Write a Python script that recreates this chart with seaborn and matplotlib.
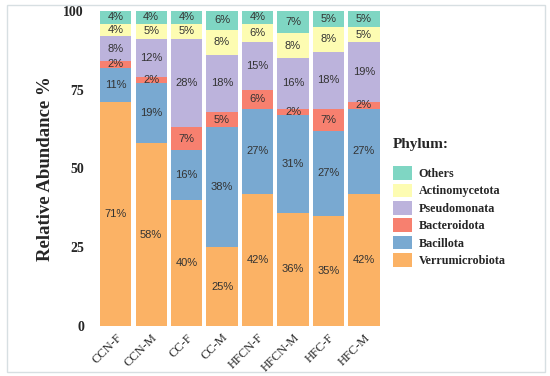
import numpy as np
import pandas as pd
import seaborn as sns
import matplotlib.pyplot as plt
from matplotlib.patches import Patch, Rectangle

# data (bottom -> top stacking order)
samples = ["CCN-F", "CCN-M", "CC-F", "CC-M", "HFCN-F", "HFCN-M", "HFC-F", "HFC-M"]
phyla = ["Verrumicrobiota", "Bacillota", "Bacteroidota", "Pseudomonata", "Actinomycetota", "Others"]
verrumicrobiota = [71, 58, 40, 25, 42, 36, 35, 42]
bacillota = [11, 19, 16, 38, 27, 31, 27, 27]
bacteroidota = [2, 2, 7, 5, 6, 2, 7, 2]
pseudomonata = [8, 12, 28, 18, 15, 16, 18, 19]
actinomycetota = [4, 5, 5, 8, 6, 8, 8, 5]
others = [4, 4, 4, 6, 4, 7, 5, 5]

colors = ["#fbb265", "#79a9d1", "#f7806f", "#bcb3dc", "#fdfcb2", "#7fd6c3"]

df = pd.DataFrame({"Sample": samples,
                   "Verrumicrobiota": verrumicrobiota,
                   "Bacillota": bacillota,
                   "Bacteroidota": bacteroidota,
                   "Pseudomonata": pseudomonata,
                   "Actinomycetota": actinomycetota,
                   "Others": others})
cum = df[phyla].cumsum(axis=1)

sns.set_style("white")
serif = ["Liberation Serif", "DejaVu Serif"]

fig = plt.figure(figsize=(5.5, 3.76), dpi=100)
ax = fig.add_axes([0.178, 0.133, 0.516, 0.838])

# draw tallest cumulative layer first so lower ones sit on top
for p, c in reversed(list(zip(phyla, colors))):
    sns.barplot(x=df["Sample"], y=cum[p], color=c, saturation=1, width=0.88,
                linewidth=0, ax=ax)

# percentage labels in the middle of each segment
for i in range(len(samples)):
    base = 0
    for p in phyla:
        v = df.loc[i, p]
        ax.text(i, base + v / 2, f"{v}%", ha="center", va="center",
                fontsize=8, color="#333333", family=["Liberation Sans", "DejaVu Sans"])
        base += v

ax.set_ylim(0, 100)
ax.set_xlim(-0.5, len(samples) - 0.5)
ax.set_yticks([0, 25, 50, 75, 100])
ax.set_yticklabels(["0", "25", "50", "75", "100"], family=serif, fontweight="bold", fontsize=10)
ax.set_xticks(range(len(samples)))
ax.set_xticklabels(samples, rotation=45, ha="right", rotation_mode="anchor",
                   family=serif, fontsize=9)
ax.tick_params(axis="y", length=0, pad=10)
ax.tick_params(axis="x", length=0, pad=4)
ax.set_xlabel("")
ax.set_ylabel("Relative Abundance %", family=serif, fontweight="bold", fontsize=13.5, labelpad=7)
sns.despine(ax=ax, left=True, bottom=True)

handles = [Patch(facecolor=c, edgecolor="none", label=p)
           for p, c in reversed(list(zip(phyla, colors)))]
leg = fig.legend(handles=handles, title="Phylum:", loc="upper left",
                 bbox_to_anchor=(382 / 550, 1 - 127 / 376), frameon=False,
                 prop={"family": serif, "weight": "bold", "size": 8.7},
                 handlelength=1.6, handleheight=1.35, labelspacing=0.3,
                 handletextpad=0.55, alignment="left")
leg.get_title().set_fontfamily(serif)
leg.get_title().set_fontweight("bold")
leg.get_title().set_fontsize(11)
leg._legend_box.sep = 11

# thin frame around the figure
fig.patches.append(Rectangle((7 / 550, 4 / 376), 538 / 550, 367 / 376,
                             transform=fig.transFigure, fill=False,
                             edgecolor="#d7dfe2", linewidth=1))

fig.savefig("out.png", dpi=100)
